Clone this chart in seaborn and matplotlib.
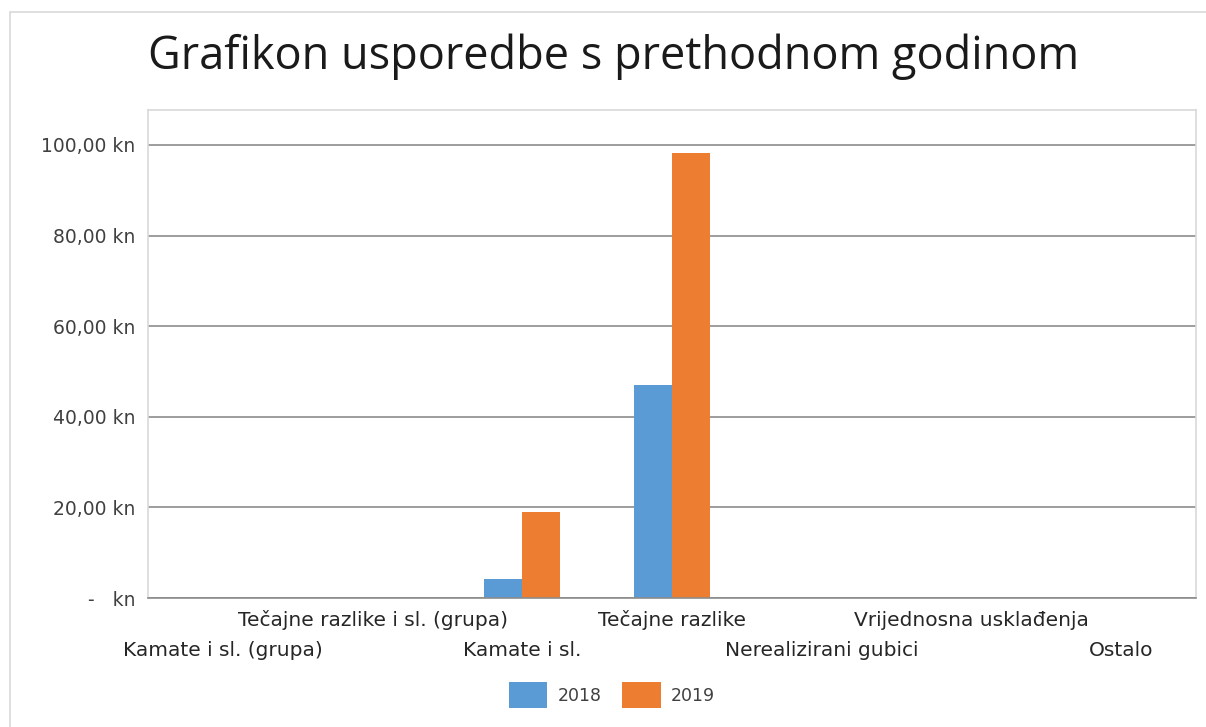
import numpy as np
import pandas as pd
import matplotlib
matplotlib.use("Agg")
import matplotlib.pyplot as plt
import seaborn as sns
from matplotlib.ticker import FuncFormatter, MultipleLocator
from matplotlib.lines import Line2D

categories = [
    "Kamate i sl. (grupa)",
    "Tečajne razlike i sl. (grupa)",
    "Kamate i sl.",
    "Tečajne razlike",
    "Nerealizirani gubici",
    "Vrijednosna usklađenja",
    "Ostalo",
]
years = ["2018", "2019"]
values_2018 = [0, 0, 4.2, 47.0, 0, 0, 0]
values_2019 = [0, 0, 19.0, 98.2, 0, 0, 0]
colors = ["#5B9BD5", "#ED7D31"]

df = pd.DataFrame({
    "kategorija": categories * 2,
    "godina": [years[0]] * len(categories) + [years[1]] * len(categories),
    "iznos": values_2018 + values_2019,
})

sns.set_style("white")
plt.rcParams["font.family"] = ["Open Sans", "DejaVu Sans"]

fig = plt.figure(figsize=(12.06, 7.27), dpi=100)
ax = fig.add_axes([148 / 1206, 129 / 727, 1048 / 1206, 488 / 727])

sns.barplot(data=df, x="kategorija", y="iznos", hue="godina",
            palette=colors, width=0.505, saturation=1, linewidth=0,
            ax=ax, legend=True)

ax.set_ylim(0, 107.7)
ax.set_xlim(-0.5, len(categories) - 0.5)
ax.yaxis.set_major_locator(MultipleLocator(20))


def kn_fmt(v, pos):
    if abs(v) < 1e-9:
        return "-   kn"
    return f"{v:,.2f}".replace(",", "X").replace(".", ",").replace("X", ".") + " kn"


ax.yaxis.set_major_formatter(FuncFormatter(kn_fmt))
ax.grid(axis="y", color="#8c8c8c", linewidth=1.2)
ax.set_axisbelow(True)
for s in ["top", "right", "left"]:
    ax.spines[s].set_color("#d9d9d9")
    ax.spines[s].set_linewidth(1.2)
ax.spines["bottom"].set_color("#8c8c8c")
ax.spines["bottom"].set_linewidth(1.2)

ax.tick_params(axis="y", length=0, pad=9, labelcolor="#404040")
for lbl in ax.get_yticklabels():
    lbl.set_fontfamily("DejaVu Sans")
    lbl.set_fontsize(13.5)

# alternating two-row category labels
ax.set_xticks(range(len(categories)))
ax.set_xticklabels([""] * len(categories))
ax.tick_params(axis="x", length=0)
for i, c in enumerate(categories):
    yoff = -22 if i % 2 == 1 else -52
    ax.annotate(c, xy=(i, 0), xycoords=("data", "axes fraction"),
                xytext=(0, yoff), textcoords="offset pixels",
                ha="center", va="center", fontsize=14.5, color="#262626",
                family="DejaVu Sans")

ax.set_xlabel("")
ax.set_ylabel("")

leg = ax.legend(loc="center", bbox_to_anchor=(612 / 1206, 1 - 695 / 727),
                bbox_transform=fig.transFigure, ncol=2, frameon=False,
                handlelength=2.2, handleheight=2.0, handletextpad=0.6,
                columnspacing=1.2, fontsize=12.5)
for t in leg.get_texts():
    t.set_color("#404040")
    t.set_fontfamily("DejaVu Sans")

fig.text(614 / 1206, 1 - 57 / 727, "Grafikon usporedbe s prethodnom godinom",
         ha="center", va="center", fontsize=32.5, color="#1a1a1a")

# outer chart border
fig.add_artist(Line2D([10 / 1206, 10 / 1206], [0, 1 - 12 / 727],
                      transform=fig.transFigure, color="#d9d9d9", linewidth=1.2))
fig.add_artist(Line2D([10 / 1206, 1], [1 - 12 / 727, 1 - 12 / 727],
                      transform=fig.transFigure, color="#d9d9d9", linewidth=1.2))

fig.savefig("out.png", dpi=100)
